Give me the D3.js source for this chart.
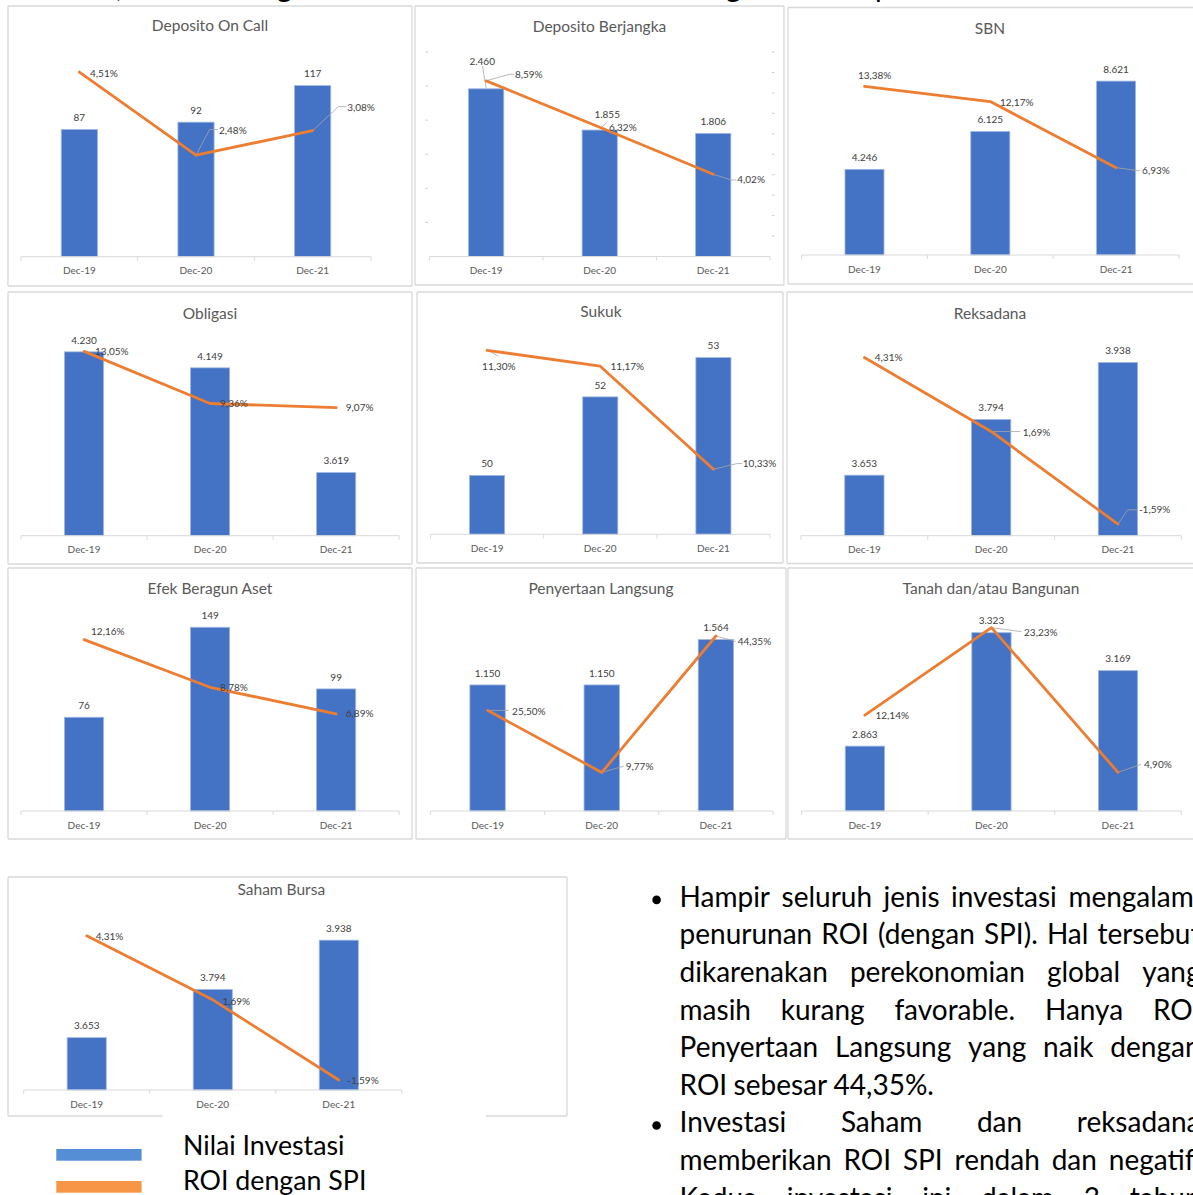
<!DOCTYPE html>
<html><head><meta charset="utf-8">
<script src="https://cdn.jsdelivr.net/npm/d3@7"></script>
<style>html,body{margin:0;padding:0;background:#fff;overflow:hidden}</style>
</head><body><svg id="c" width="1193" height="1195"></svg>
<script>
// ---------------- DATA ----------------
const categories = ["Dec-19", "Dec-20", "Dec-21"];
const panelTitles = ["Deposito On Call", "Deposito Berjangka", "SBN", "Obligasi", "Sukuk", "Reksadana",
  "Efek Beragun Aset", "Penyertaan Langsung", "Tanah dan/atau Bangunan", "Saham Bursa"];
const nilaiInvestasi = [
  [87, 92, 117], [2460, 1855, 1806], [4246, 6125, 8621], [4230, 4149, 3619], [50, 52, 53],
  [3653, 3794, 3938], [76, 149, 99], [1150, 1150, 1564], [2863, 3323, 3169], [3653, 3794, 3938]];
const roiSPI = [
  [4.51, 2.48, 3.08], [8.59, 6.32, 4.02], [13.38, 12.17, 6.93], [13.05, 9.36, 9.07], [11.30, 11.17, 10.33],
  [4.31, 1.69, -1.59], [12.16, 8.78, 6.89], [25.50, 9.77, 44.35], [12.14, 23.23, 4.90], [4.31, 1.69, -1.59]];
const barAxisDomains = [[0, 140], [0, 3000], [0, 10000], [3300, 4300], [48.5, 53.5], [3500, 4000], [0, 160], [0, 1800], [2600, 3400], [3500, 4000]];
const lineAxisDomains = [[0, 5], [0, 10], [0, 16], [0, 14], [9.8, 11.4], [-2, 5], [0, 14], [0, 50], [0, 25], [-2, 5]];
const legendLabels = ["Nilai Investasi", "ROI dengan SPI"];
const bodyLines = [
  "Hampir seluruh jenis investasi mengalami",
  "penurunan ROI (dengan SPI). Hal tersebut",
  "dikarenakan perekonomian global yang",
  "masih kurang favorable. Hanya ROI",
  "Penyertaan Langsung yang naik dengan",
  "ROI sebesar 44,35%.",
  "Investasi Saham dan reksadana",
  "memberikan ROI SPI rendah dan negatif.",
  "Kedua investasi ini dalam 3 tahun"];
const bulletLineIdx = [0, 6];
const lastLineIdx = [5];
const topFragments = [",", "g", "g", "p"];

// ---------------- LAYOUT ----------------
const panelLayout = [
  {box: [8, 6, 412, 286], plot: [21, 371, 52, 256.7], title: [210, 25.7]},
  {box: [415, 6, 784, 285], plot: [429.4, 770, 52, 256.5], title: [599.5, 26.7], sideTicks: true},
  {box: [788, 7.5, 1210, 284], plot: [801.6, 1179, 53.3, 255], title: [990, 29]},
  {box: [8, 292, 412, 564], plot: [21, 399.2, 338, 535.7], title: [210, 313.3]},
  {box: [417, 292, 783, 563], plot: [430.5, 770, 338, 534.3], title: [601, 312]},
  {box: [787, 292, 1210, 563.5], plot: [801, 1181.3, 338, 535.7], title: [990, 314]},
  {box: [8, 568, 412, 839], plot: [21, 399.2, 613.7, 811], title: [210, 589]},
  {box: [416, 568, 786, 839], plot: [430.5, 773, 613.7, 811], title: [601, 589]},
  {box: [788, 568, 1210, 839], plot: [801.6, 1181.3, 613.7, 811], title: [991, 589]},
  {box: [8, 877, 567, 1116], plot: [23.7, 401.8, 919, 1090], title: [281.3, 890], gap: [162.6, 486]}
];
const roiLabelLayout = [
  [{dx: 10.7, dy: 1}, {dx: 23, dy: -24.3, leader: [[0, 0], [13.7, -25.7], [22, -25.7]]}, {dx: 34.5, dy: -23.4, leader: [[0, 0], [25.7, -24], [33.5, -24]]}],
  [{dx: 28.8, dy: -6.2, leader: [[0, 0], [23, -6.5], [28, -6.5]]}, {dx: 9.3, dy: 0.3, leader: [[1.5, 0.5], [7.5, -5]]}, {dx: 24, dy: 5.7, leader: [[0, 0], [18.4, 5.7], [23, 5.7]]}],
  [{dx: -6.6, dy: -11}, {dx: 9.7, dy: 0.6}, {dx: 26, dy: 3.3, leader: [[0, 0], [24, 3.3]]}],
  [{dx: 11, dy: 0}, {dx: 10, dy: 0}, {dx: 9.6, dy: 0.3}],
  [{dx: -5, dy: 16.2, leader: [[2, 0.5], [11.4, 6]]}, {dx: 10.3, dy: 0.7}, {dx: 29.4, dy: -5.7, leader: [[0, 0], [23.7, -5.7], [28.7, -5.7]]}],
  [{dx: 10.4, dy: 0.4}, {dx: 31.5, dy: 0.8, leader: [[2, 0], [29, 0]]}, {dx: 21, dy: -14.3, leader: [[0, 0], [9.7, -14.3], [20, -14.3]]}],
  [{dx: 7, dy: -8}, {dx: 10, dy: 0}, {dx: 9.6, dy: 0}],
  [{dx: 24.5, dy: 0.7, leader: [[2, 0], [21, 0]]}, {dx: 24, dy: -6.3, leader: [[0, 0], [22, -6.3]]}, {dx: 21.8, dy: 6, leader: [[0, 0], [20, 5.5]]}],
  [{dx: 10.6, dy: 0.7}, {dx: 32.6, dy: 4.4, leader: [[0, 0], [30, 4]]}, {dx: 26, dy: -8, leader: [[0, 0], [23, -8]]}],
  [{dx: 9, dy: 0.7}, {dx: 9.7, dy: 1.4}, {dx: 8.5, dy: 0.7}]
];
const valueLabelLayout = {1: [{dx: -4, dy: -16, leader: [[0.3, 5], [4, 27]]}, {dx: 7.5, dy: -3.7}, {dx: 0, dy: 0}]};

// ---------------- DRAW ----------------
const loc = d3.formatLocale({decimal: ",", thousands: ".", grouping: [3], currency: ["Rp", ""], minus: "-"});
const fmtVal = loc.format(",d");
const fmtPct = v => loc.format(",.2f")(v) + "%";
const FONT = "Lato, 'Open Sans', sans-serif";
const svg = d3.select("#c");
svg.append("rect").attr("width", 1193).attr("height", 1195).attr("fill", "#fff");

// top fragments of the previous text line (only descenders visible, as in the reference)
const fragX = [116, 277, 726, 875];
svg.append("g").attr("font-family", FONT).attr("font-size", 29).attr("fill", "#000")
  .selectAll("text").data(topFragments).join("text")
  .attr("x", (d, i) => fragX[i]).attr("y", -3.5).text(d => d);

panelLayout.forEach((L, p) => {
  const g = svg.append("g");
  const [bx0, by0, bx1, by1] = L.box;
  const frame = g.append("g").attr("stroke", "#d9d9d9").attr("stroke-width", 1.3).attr("fill", "none");
  frame.append("line").attr("x1", bx0).attr("x2", bx1).attr("y1", by0).attr("y2", by0);
  frame.append("line").attr("x1", bx0).attr("x2", bx0).attr("y1", by0).attr("y2", by1);
  frame.append("line").attr("x1", bx1).attr("x2", bx1).attr("y1", by0).attr("y2", by1);
  if (L.gap) {
    frame.append("line").attr("x1", bx0).attr("x2", L.gap[0]).attr("y1", by1).attr("y2", by1);
    frame.append("line").attr("x1", L.gap[1]).attr("x2", bx1).attr("y1", by1).attr("y2", by1);
  } else {
    frame.append("line").attr("x1", bx0).attr("x2", bx1).attr("y1", by1).attr("y2", by1);
  }

  const [l, r, t, b] = L.plot;
  const x = d3.scaleBand().domain(categories).range([l, r]).paddingInner(0.69).paddingOuter(0.345);
  const yb = d3.scaleLinear().domain(barAxisDomains[p]).range([b, t]);
  const yl = d3.scaleLinear().domain(lineAxisDomains[p]).range([b, t]);
  const cx = c => x(c) + x.bandwidth() / 2;

  g.append("text").attr("x", L.title[0]).attr("y", L.title[1]).attr("dy", "0.35em")
    .attr("text-anchor", "middle").attr("font-family", FONT).attr("font-size", 15.5)
    .attr("fill", "#595959").text(panelTitles[p]);

  if (L.sideTicks) {
    g.append("g").selectAll("line").data(yb.ticks(6).filter(v => v > barAxisDomains[p][0])).join("line")
      .attr("x1", l - 4).attr("x2", l - 1.5).attr("y1", d => yb(d)).attr("y2", d => yb(d))
      .attr("stroke", "#bfbfbf").attr("stroke-width", 0.8);
    g.append("g").selectAll("line").data(yl.ticks(10).filter(v => v > lineAxisDomains[p][0])).join("line")
      .attr("x1", r + 2).attr("x2", r + 4.5).attr("y1", d => yl(d)).attr("y2", d => yl(d))
      .attr("stroke", "#bfbfbf").attr("stroke-width", 0.8);
  }

  g.append("g").selectAll("rect").data(nilaiInvestasi[p]).join("rect")
    .attr("x", (d, i) => x(categories[i])).attr("width", x.bandwidth())
    .attr("y", d => yb(d)).attr("height", d => b - yb(d))
    .attr("fill", "#4472c4").attr("stroke", "#9fb6e2").attr("stroke-width", 0.8);

  const ax = g.append("g").attr("stroke", "#d9d9d9").attr("stroke-width", 1);
  ax.append("line").attr("x1", l).attr("x2", r).attr("y1", b).attr("y2", b);
  const bounds = d3.range(categories.length + 1).map(i => l + i * x.step());
  ax.selectAll("line.tk").data(bounds).join("line").attr("class", "tk")
    .attr("x1", d => d).attr("x2", d => d).attr("y1", b).attr("y2", b + 4);
  g.append("g").selectAll("text").data(categories).join("text")
    .attr("x", d => cx(d)).attr("y", b + 14).attr("dy", "0.35em").attr("text-anchor", "middle")
    .attr("font-family", FONT).attr("font-size", 10).attr("fill", "#595959").text(d => d);

  const vl = valueLabelLayout[p] || [];
  nilaiInvestasi[p].forEach((v, i) => {
    const o = vl[i] || {dx: 0, dy: 0};
    const lx = cx(categories[i]) + o.dx, ly = yb(v) - 11.7 + o.dy;
    if (o.leader) {
      g.append("path").attr("d", d3.line()(o.leader.map(q => [lx + q[0], ly + q[1]])))
        .attr("fill", "none").attr("stroke", "#a6a6a6").attr("stroke-width", 0.8);
    }
    g.append("text").attr("x", lx).attr("y", ly).attr("dy", "0.35em").attr("text-anchor", "middle")
      .attr("font-family", FONT).attr("font-size", 10).attr("fill", "#404040").text(fmtVal(v));
  });

  const pts = roiSPI[p].map((v, i) => [cx(categories[i]), yl(v)]);
  roiSPI[p].forEach((v, i) => {
    const o = roiLabelLayout[p][i];
    if (o.leader) {
      g.append("path").attr("d", d3.line()(o.leader.map(q => [pts[i][0] + q[0], pts[i][1] + q[1]])))
        .attr("fill", "none").attr("stroke", "#a6a6a6").attr("stroke-width", 0.8);
    }
  });
  g.append("path").attr("d", d3.line()(pts)).attr("fill", "none").attr("stroke", "#ed7d31")
    .attr("stroke-width", 2.8).attr("stroke-linejoin", "round").attr("stroke-linecap", "round");
  roiSPI[p].forEach((v, i) => {
    const o = roiLabelLayout[p][i];
    g.append("text").attr("x", pts[i][0] + o.dx).attr("y", pts[i][1] + o.dy).attr("dy", "0.35em")
      .attr("font-family", FONT).attr("font-size", 10).attr("fill", "#404040").text(fmtPct(v));
  });
});

// ---------------- LEGEND ----------------
const leg = svg.append("g").attr("font-family", FONT).attr("fill", "#000");
const probeL = leg.append("text").attr("font-size", 28).text(legendLabels[0]);
const legFs = 28 * 161.5 / probeL.node().getComputedTextLength();
probeL.remove();
const legColors = ["#558ed5", "#f79646"];
const legY = [1149, 1181];
const legBase = [1155, 1190];
legendLabels.forEach((s, i) => {
  leg.append("rect").attr("x", 56.3).attr("y", legY[i]).attr("width", 85.3).attr("height", 11.7).attr("fill", legColors[i]);
  leg.append("text").attr("x", 183).attr("y", legBase[i]).attr("font-size", legFs).text(s);
});

// ---------------- BODY TEXT ----------------
const body = svg.append("g").attr("font-family", FONT).attr("fill", "#000");
const probe = body.append("text").attr("font-size", 30).text(bodyLines[5]);
const fs = 30 * 255.3 / probe.node().getComputedTextLength();
probe.remove();
const colL = 679.6, colR = 1200.5, W = colR - colL;
bodyLines.forEach((line, k) => {
  const y = 906.7 + k * 37.6;
  if (bulletLineIdx.includes(k)) {
    body.append("circle").attr("cx", 656.6).attr("cy", y - 6.8).attr("r", 4.3).attr("fill", "#000");
  }
  const words = line.split(" ");
  const nodes = words.map(w => body.append("text").attr("font-size", fs).attr("y", y).text(w));
  const widths = nodes.map(n => n.node().getComputedTextLength());
  const sum = d3.sum(widths);
  let gap = fs * 0.23;
  if (!lastLineIdx.includes(k) && words.length > 1) gap = Math.max(gap * 0.6, (W - sum) / (words.length - 1));
  let xx = colL;
  nodes.forEach((n, i) => { n.attr("x", xx); xx += widths[i] + gap; });
});
</script></body></html>
